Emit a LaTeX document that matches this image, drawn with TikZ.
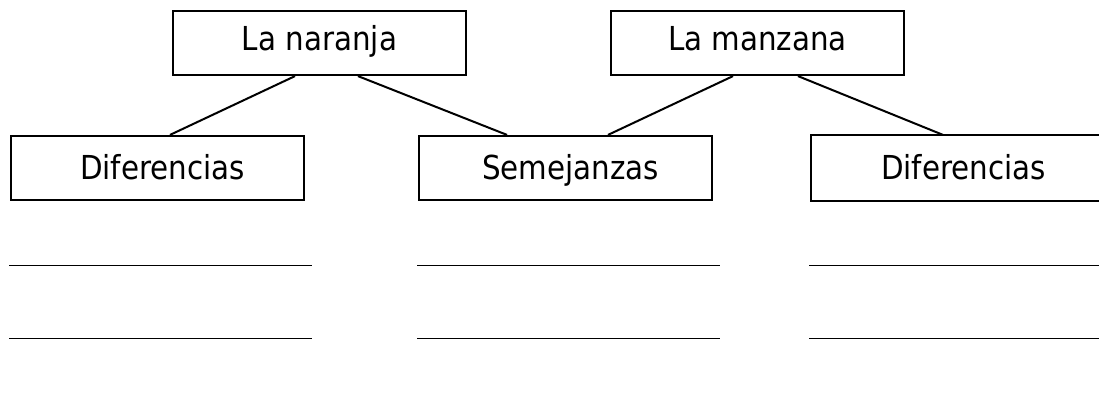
\documentclass[tikz,border=0pt]{standalone}
\usepackage{fontspec}
\setmainfont{DejaVu Sans}[FakeStretch=0.89]

\tikzset{
  caja/.style={draw=black, line width=2.2pt, minimum width=293pt, minimum height=64pt, inner sep=0pt,
    text height=24pt, text depth=2pt, font=\fontsize{33}{38}\selectfont},
  cajaarriba/.style={caja, text depth=9pt},
  cajaabajo/.style={caja, execute at begin node={\hspace{10pt}}},
  borde/.style={black, line width=2.2pt},
  rama/.style={black, line width=2pt},
  renglon/.style={black, line width=1.8pt}
}

\begin{document}
\begin{tikzpicture}[x=1pt, y=-1pt]
      \useasboundingbox (0,0) rectangle (1099,412);

      \node[cajaarriba] (naranja) at (319.5,43) {La naranja};
      \node[cajaarriba] (manzana) at (757.5,43) {La manzana};

      \node[cajaabajo] (difA) at (157.5,168) {Diferencias};
      \node[cajaabajo] (seme) at (565.5,168) {Semejanzas};
      % la caja de la derecha queda cortada por el borde
      \node[cajaabajo, draw=none] (difB) at (958.5,168) {Diferencias};
      \draw[borde] (1099,135) -| (difB.west) |- (1099,201);

      \draw[rama] ([xshift=-24.5pt]naranja.south) -- ([xshift=12.5pt]difA.north);
      \draw[rama] ([xshift=38.5pt]naranja.south) -- ([xshift=-58.5pt]seme.north);
      \draw[rama] ([xshift=-24.5pt]manzana.south) -- ([xshift=42.5pt]seme.north);
      \draw[rama] ([xshift=40.5pt]manzana.south) -- ([xshift=-15.5pt]difB.north);

      % renglones para escribir
      \foreach \y in {265.5,338.5} {
        \draw[renglon] (9,\y) -- (312,\y);
        \draw[renglon] (417,\y) -- (720,\y);
        \draw[renglon] (809,\y) -- (1099,\y);
      }
    \end{tikzpicture}
\end{document}
